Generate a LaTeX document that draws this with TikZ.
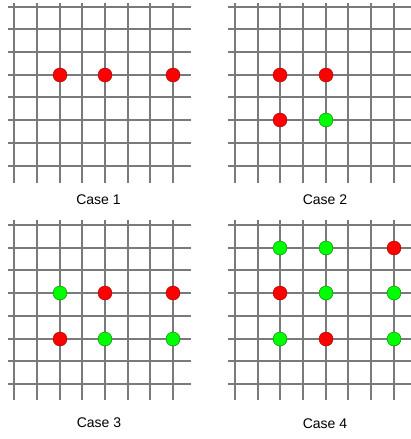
\documentclass[tikz,border=0pt]{standalone}
\usepackage{fontspec}
\setmainfont{Liberation Sans}
\begin{document}
\begin{tikzpicture}[x=1pt,y=-1pt,
  gridline/.style={draw=black!52,line width=1.3pt},
  reddot/.style={circle,draw=red!55!black,line width=0.4pt,fill=red,minimum size=14pt,inner sep=0pt},
  greendot/.style={circle,draw=green!45!black,line width=0.4pt,fill=green,minimum size=14pt,inner sep=0pt},
  caselabel/.style={font=\fontsize{14}{16}\selectfont,inner sep=0pt}]
\useasboundingbox (0,0) rectangle (411,439);
% panel grid: #1 = vertical x list, #2 = horizontal y list, #3 = vertical top, #4 = horizontal left
\newcommand{\panelgrid}[4]{%
  \foreach \vx in {#1}{\draw[gridline] (\vx,#3) -- (\vx,#3+180);}
  \foreach \hy in {#2}{\draw[gridline] (#4,\hy) -- (#4+183,\hy);}}
\panelgrid{14,37,60,82,105,128,150,173}{7,29,52,75,97,120,143,166}{3}{8}
\panelgrid{235,258,280,303,326,348,371,394}{7,29,52,75,97,120,143,166}{3}{228}
\panelgrid{14,37,60,82,105,128,150,173}{225,248,270,293,316,339,361,384}{220}{8}
\panelgrid{235,258,280,303,326,348,371,394}{225,248,270,293,316,339,361,384}{220}{228}
% Case 1
\node[reddot] (a1) at (60,75) {};
\node[reddot] (a2) at (105,75) {};
\node[reddot] (a3) at (173,75) {};
\node[caselabel] (l1) at (98.5,199.5) {Case 1};
% Case 2
\node[reddot] (b1) at (280,75) {};
\node[reddot] (b2) at (326,75) {};
\node[reddot] (b3) at (280,120) {};
\node[greendot] (b4) at (326,120) {};
\node[caselabel] (l2) at (325,199.5) {Case 2};
% Case 3
\node[greendot] (c1) at (60,293) {};
\node[reddot] (c2) at (105,293) {};
\node[reddot] (c3) at (173,293) {};
\node[reddot] (c4) at (60,339) {};
\node[greendot] (c5) at (105,339) {};
\node[greendot] (c6) at (173,339) {};
\node[caselabel] (l3) at (99,423) {Case 3};
% Case 4
\node[greendot] (d1) at (280,248) {};
\node[greendot] (d2) at (326,248) {};
\node[reddot] (d3) at (394,248) {};
\node[reddot] (d4) at (280,293) {};
\node[greendot] (d5) at (326,293) {};
\node[greendot] (d6) at (394,293) {};
\node[greendot] (d7) at (280,339) {};
\node[reddot] (d8) at (326,339) {};
\node[greendot] (d9) at (394,339) {};
\node[caselabel] (l4) at (325,423.5) {Case 4};
\end{tikzpicture}
\end{document}
